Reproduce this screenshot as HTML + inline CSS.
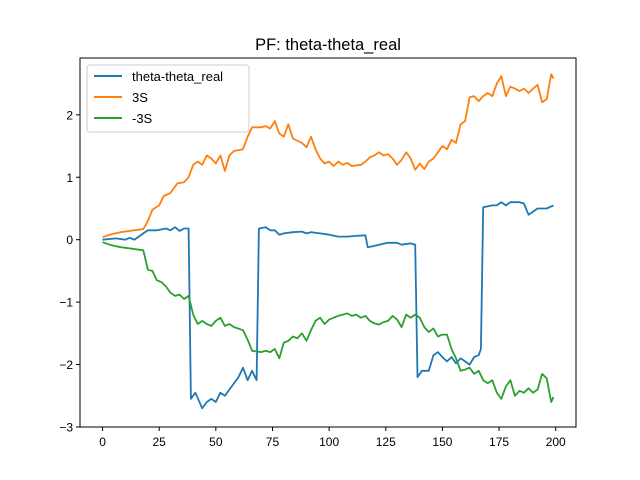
<!DOCTYPE html>
<html><head><meta charset="utf-8"><style>
body{margin:0;background:#fff;}
svg{display:block;font-family:"Liberation Sans","DejaVu Sans",sans-serif;}
</style></head><body>
<svg id="chart" width="640" height="480" viewBox="0 0 640 480">
<rect width="640" height="480" fill="#fff"/>
<text x="328" y="50" text-anchor="middle" font-size="16.5">PF: theta-theta_real</text>
<g id="marks"></g>
<rect x="80" y="58" width="496" height="369" fill="none" stroke="#000" stroke-width="1"/>
<g id="axes"></g>
<g>
<rect x="87" y="65" width="162" height="67" rx="3" fill="#fff" fill-opacity="0.8" stroke="#ccc"/>
<line x1="94" y1="76" x2="122" y2="76" stroke="#1f77b4" stroke-width="2"/>
<text x="132" y="81" font-size="13">theta-theta_real</text>
<line x1="94" y1="97" x2="122" y2="97" stroke="#ff7f0e" stroke-width="2"/>
<text x="132" y="102" font-size="13">3S</text>
<line x1="94" y1="118" x2="122" y2="118" stroke="#2ca02c" stroke-width="2"/>
<text x="132" y="123" font-size="13">-3S</text>
</g>
</svg>
<script>
const xTicks=[0,25,50,75,100,125,150,175,200];
const yTicks=[-3,-2,-1,0,1,2];
const blueX=[0,6,10,12,14,16,18,20,24,28,30,32,34,36,38,39,41,44,46,48,50,52,54,56,58,60,62,64,66,68,69,72,74,76,78,80,84,88,90,92,96,100,104,108,112,116,117,120,122,126,130,132,136,138,139,141,144,146,148,150,152,154,156,158,160,162,164,166,167,168,172,174,176,178,180,184,186,188,190,192,196,199];
const blueY=[0,0.02,0,0.03,0,0.05,0.1,0.15,0.15,0.18,0.15,0.2,0.14,0.18,0.18,-2.55,-2.45,-2.7,-2.6,-2.55,-2.6,-2.45,-2.5,-2.4,-2.3,-2.2,-2.05,-2.25,-2.1,-2.25,0.18,0.2,0.15,0.15,0.08,0.1,0.12,0.13,0.1,0.12,0.1,0.08,0.05,0.05,0.06,0.07,-0.12,-0.1,-0.08,-0.05,-0.05,-0.08,-0.06,-0.08,-2.2,-2.1,-2.1,-1.85,-1.8,-1.88,-1.95,-1.88,-1.98,-1.9,-1.95,-2.0,-1.88,-1.85,-1.75,0.52,0.55,0.55,0.6,0.55,0.6,0.6,0.58,0.4,0.45,0.5,0.5,0.55];
const orangeX=[0,4,8,12,16,18,20,22,25,27,30,33,36,38,40,42,44,46,48,50,52,54,56,58,62,64,66,70,72,74,76,78,80,82,84,88,90,92,94,96,98,100,102,104,106,108,110,114,116,118,120,122,124,126,128,130,132,134,136,138,140,142,144,146,148,150,152,154,156,158,160,162,164,166,168,170,172,174,176,178,180,182,184,186,188,190,192,194,196,198,199];
const orangeY=[0.04,0.09,0.12,0.14,0.16,0.17,0.3,0.48,0.55,0.7,0.75,0.9,0.92,1.0,1.2,1.25,1.2,1.35,1.3,1.22,1.35,1.1,1.35,1.42,1.45,1.65,1.8,1.8,1.82,1.78,1.9,1.7,1.65,1.85,1.62,1.55,1.48,1.65,1.45,1.3,1.22,1.25,1.18,1.25,1.2,1.23,1.18,1.2,1.25,1.32,1.35,1.4,1.35,1.37,1.3,1.2,1.28,1.4,1.3,1.12,1.22,1.13,1.25,1.3,1.4,1.5,1.45,1.6,1.55,1.85,1.9,2.28,2.3,2.22,2.3,2.35,2.3,2.5,2.62,2.3,2.45,2.42,2.38,2.42,2.35,2.42,2.48,2.2,2.25,2.65,2.58];
const greenX=[0,4,8,12,16,18,20,22,24,26,28,30,32,34,36,38,40,42,44,46,48,50,52,54,56,58,62,64,66,70,72,74,76,78,80,82,84,86,88,90,92,94,96,98,100,102,104,106,108,110,112,114,116,118,120,122,124,126,128,130,132,134,136,138,140,142,144,146,148,150,152,154,156,158,160,162,164,166,168,170,172,174,176,178,180,182,184,186,188,190,192,194,196,198,199];
const greenY=[-0.04,-0.09,-0.12,-0.14,-0.16,-0.17,-0.48,-0.5,-0.65,-0.68,-0.75,-0.85,-0.9,-0.88,-0.95,-0.9,-1.2,-1.35,-1.3,-1.35,-1.38,-1.3,-1.25,-1.38,-1.35,-1.4,-1.45,-1.6,-1.78,-1.8,-1.78,-1.8,-1.75,-1.9,-1.65,-1.62,-1.55,-1.58,-1.5,-1.62,-1.45,-1.3,-1.25,-1.35,-1.28,-1.25,-1.22,-1.2,-1.18,-1.22,-1.2,-1.25,-1.22,-1.3,-1.34,-1.36,-1.32,-1.3,-1.22,-1.28,-1.4,-1.2,-1.25,-1.2,-1.25,-1.4,-1.48,-1.42,-1.55,-1.52,-1.52,-1.75,-1.9,-2.1,-2.08,-2.05,-2.15,-2.1,-2.25,-2.3,-2.25,-2.45,-2.55,-2.35,-2.25,-2.5,-2.42,-2.45,-2.38,-2.45,-2.4,-2.15,-2.22,-2.6,-2.52];

const X0=80,X1=576,Y0=427,Y1=58;
const xmin=-9.95,xmax=208.95,ymin=-3.0,ymax=2.91;
function sx(v){return X0+(v-xmin)/(xmax-xmin)*(X1-X0);}
function sy(v){return Y0-(v-ymin)/(ymax-ymin)*(Y0-Y1);}
const NS="http://www.w3.org/2000/svg";
const marks=document.getElementById('marks');
const axes=document.getElementById('axes');
function line(xs,ys,color,name){
  const p=document.createElementNS(NS,'path');
  p.setAttribute('d',xs.map((x,i)=>(i?'L':'M')+sx(x).toFixed(1)+' '+sy(ys[i]).toFixed(1)).join(''));
  p.setAttribute('fill','none');p.setAttribute('stroke',color);p.setAttribute('stroke-width','1.8');
  p.setAttribute('stroke-linejoin','round');
  
  
  marks.appendChild(p);
}
line(blueX,blueY,'#1f77b4','series-theta');
line(orangeX,orangeY,'#ff7f0e','series-3s');
line(greenX,greenY,'#2ca02c','series-neg3s');
xTicks.forEach(t=>{
  const x=sx(t);
  const l=document.createElementNS(NS,'line');
  l.setAttribute('x1',x);l.setAttribute('x2',x);l.setAttribute('y1',Y0);l.setAttribute('y2',Y0+4);l.setAttribute('stroke','#000');
  
  
  axes.appendChild(l);
  const tx=document.createElementNS(NS,'text');
  tx.setAttribute('x',x);tx.setAttribute('y',Y0+19);tx.setAttribute('text-anchor','middle');tx.setAttribute('font-size','12');
  tx.textContent=t;
  
  
  axes.appendChild(tx);
});
yTicks.forEach(t=>{
  const y=sy(t);
  const l=document.createElementNS(NS,'line');
  l.setAttribute('x1',X0-4);l.setAttribute('x2',X0);l.setAttribute('y1',y);l.setAttribute('y2',y);l.setAttribute('stroke','#000');
  
  
  axes.appendChild(l);
  const tx=document.createElementNS(NS,'text');
  tx.setAttribute('x',X0-7);tx.setAttribute('y',y+4.5);tx.setAttribute('text-anchor','end');tx.setAttribute('font-size','12');
  tx.textContent=t<0?'\u2212'+(-t):t;
  
  
  axes.appendChild(tx);
});
</script>
</body></html>
